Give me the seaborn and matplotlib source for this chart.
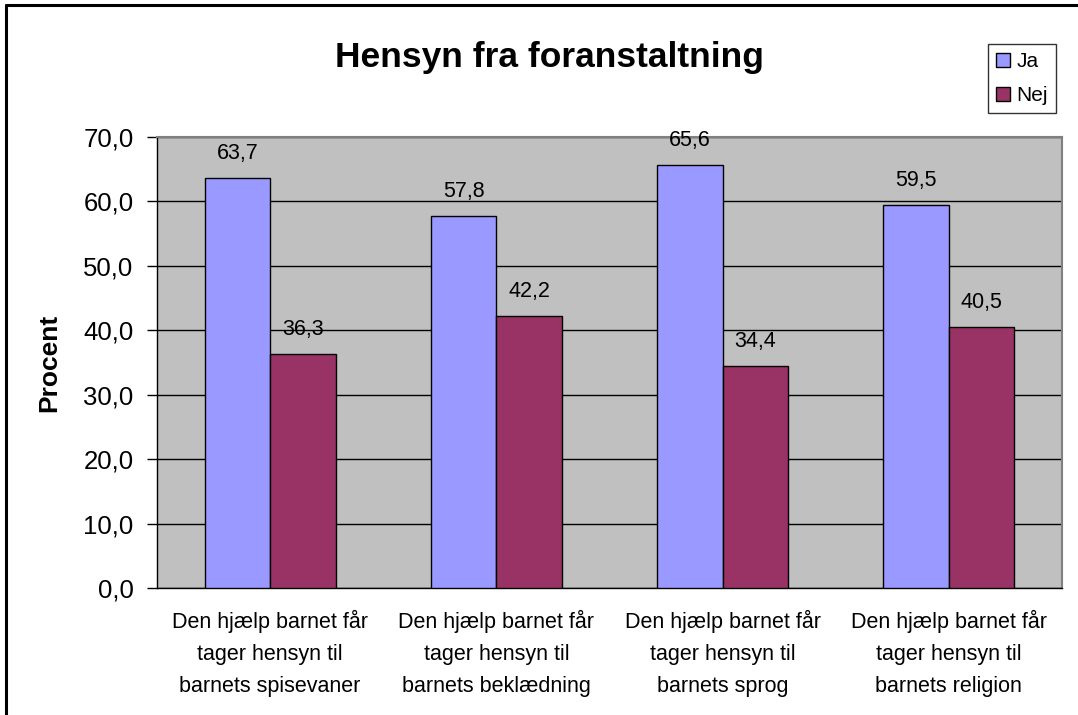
import matplotlib
matplotlib.use("Agg")
import matplotlib.pyplot as plt
import seaborn as sns
import pandas as pd
from matplotlib.lines import Line2D
from matplotlib.patches import Patch

categories = [
    "Den hjælp barnet får\ntager hensyn til\nbarnets spisevaner",
    "Den hjælp barnet får\ntager hensyn til\nbarnets beklædning",
    "Den hjælp barnet får\ntager hensyn til\nbarnets sprog",
    "Den hjælp barnet får\ntager hensyn til\nbarnets religion",
]
series_names = ["Ja", "Nej"]
ja_values = [63.7, 57.8, 65.6, 59.5]
nej_values = [36.3, 42.2, 34.4, 40.5]
y_ticks = [0, 10, 20, 30, 40, 50, 60, 70]
colors = ["#9999FF", "#993366"]

df = pd.DataFrame({
    "Kategori": categories * 2,
    "Svar": [series_names[0]] * 4 + [series_names[1]] * 4,
    "Procent": ja_values + nej_values,
})

sns.set_style("white")
plt.rcParams["font.family"] = ["Liberation Sans", "DejaVu Sans"]
plt.rcParams["text.color"] = "black"
plt.rcParams["axes.labelcolor"] = "black"
plt.rcParams["xtick.color"] = "black"
plt.rcParams["ytick.color"] = "black"

fig = plt.figure(figsize=(10.78, 7.15), dpi=100)
ax = fig.add_axes([157 / 1078, 1 - 588 / 715, (1062 - 157) / 1078, (588 - 137) / 715])
ax.set_facecolor("#C0C0C0")

sns.barplot(data=df, x="Kategori", y="Procent", hue="Svar", hue_order=series_names,
            order=categories, palette=colors, width=0.58, gap=0, saturation=1,
            edgecolor="black", linewidth=1, ax=ax, legend=False, zorder=3)

for cont in ax.containers:
    labels = [f"{b.get_height():.1f}".replace(".", ",") for b in cont]
    ax.bar_label(cont, labels=labels, padding=10, fontsize=15.5, color="black", zorder=4)

ax.set_ylim(0, 70)
ax.set_xlim(-0.5, 3.5)
ax.set_yticks(y_ticks)
ax.set_yticklabels([f"{v:.1f}".replace(".", ",") for v in y_ticks], fontsize=18.5, color="black")
ax.yaxis.grid(True, color="#000000", linewidth=1, zorder=1)
ax.set_axisbelow(True)

ax.set_xticks(range(4))
ax.set_xticklabels(categories, fontsize=15.5, linespacing=1.68, color="black")
ax.set_xticks([-0.5, 0.5, 1.5, 2.5, 3.5], minor=True)
ax.tick_params(axis="x", which="major", length=0, pad=16)
ax.tick_params(axis="x", which="minor", length=6, width=1, color="black", direction="out")
ax.tick_params(axis="y", which="major", length=7, width=1, color="black", direction="out", pad=10, left=True)

ax.set_xlabel("")
ax.set_ylabel("Procent", fontsize=19, fontweight="bold", labelpad=16, color="black")

for s in ["left", "bottom"]:
    ax.spines[s].set_color("black")
    ax.spines[s].set_linewidth(1)
for s in ["top", "right"]:
    ax.spines[s].set_visible(True)
    ax.spines[s].set_color("#808080")
    ax.spines[s].set_linewidth(1.5)

fig.text(549 / 1078, 1 - 58 / 715, "Hensyn fra foranstaltning", fontsize=25.5,
         fontweight="bold", ha="center", va="center", color="black")

handles = [Patch(facecolor=c, edgecolor="black", linewidth=1) for c in colors]
leg = fig.legend(handles, series_names, loc="upper right",
                 bbox_to_anchor=(1056 / 1078, 1 - 44 / 715), fontsize=15,
                 frameon=True, fancybox=False, shadow=False,
                 handlelength=0.65, handleheight=0.65, handletextpad=0.3,
                 labelspacing=0.7, borderpad=0.4, borderaxespad=0)
leg.get_frame().set_edgecolor("black")
leg.get_frame().set_linewidth(1)
for t in leg.get_texts():
    t.set_color("black")

fig.add_artist(Line2D([6 / 1078, 6 / 1078], [0, 1 - 5 / 715], transform=fig.transFigure,
                      color="black", linewidth=2.2))
fig.add_artist(Line2D([6 / 1078, 1], [1 - 5 / 715, 1 - 5 / 715], transform=fig.transFigure,
                      color="black", linewidth=2.2))

fig.savefig("out.png", dpi=100, facecolor="white")
